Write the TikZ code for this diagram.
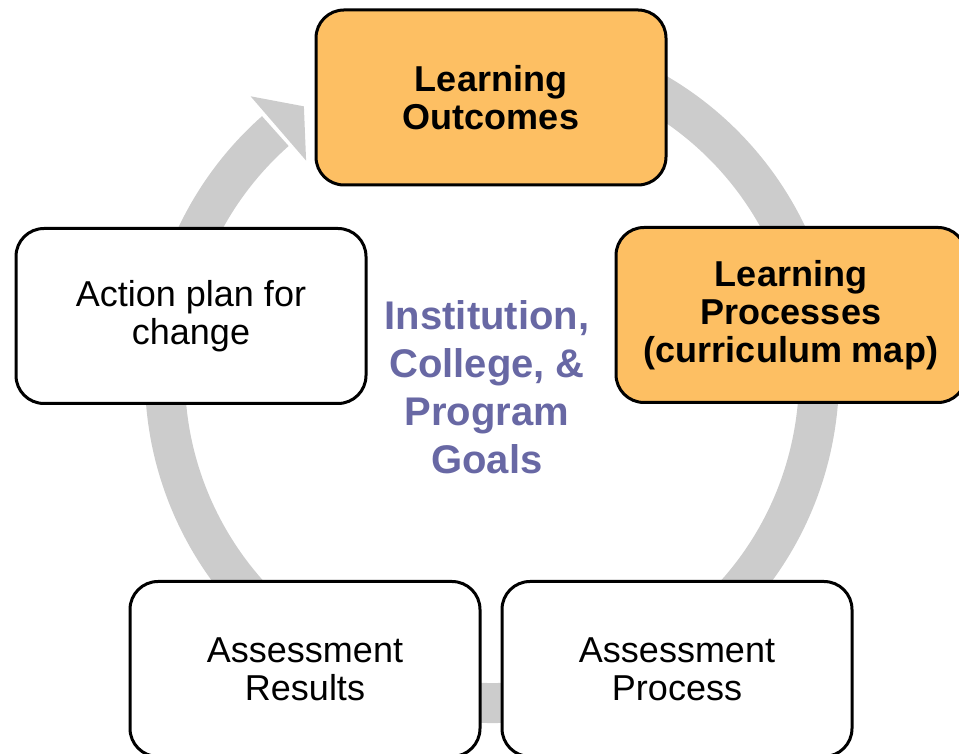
\documentclass[tikz,border=0pt]{standalone}
\usepackage{fontspec}
\setmainfont{Liberation Sans}
\usepackage{tikz}
\definecolor{boxorange}{RGB}{253,191,99}
\definecolor{ringgray}{RGB}{204,204,204}
\definecolor{goalpurple}{RGB}{104,104,164}

\begin{document}
\begin{tikzpicture}[x=0.5pt,y=0.5pt,
  box/.style={draw=black,line width=1.5pt,rounded corners=14pt,fill=white,
    minimum width=175pt,minimum height=87.5pt,inner sep=0pt,align=center,
    font=\fontsize{18}{19}\selectfont},
  hotbox/.style={box,fill=boxorange,font=\fontsize{18}{19}\selectfont\bfseries}]
\useasboundingbox (0,0) rectangle (959,754);
\clip (0,0) rectangle (959,754);

\coordinate (nodeO) at (492,378);
\draw[line width=20pt,color=ringgray] ([shift={(nodeO)}]80:327) arc (80:-228.5:327);
\fill[ringgray] ([shift={(nodeO)}]130.8:369.5) -- ([shift={(nodeO)}]124.9:328.8)
  -- ([shift={(nodeO)}]130.8:284.5) -- cycle;

\node[hotbox] (nodeOut) at (491,656.5) {Learning\\Outcomes};
\node[hotbox] (nodeProc) at (791,439) {Learning\\Processes\\(curriculum map)};
\node[box] (nodeAct) at (191,438) {Action plan for\\change};
\node[box] (nodeRes) at (305,85) {Assessment\\Results};
\node[box] (nodePro) at (677,85) {Assessment\\Process};

\node[font=\fontsize{20}{24}\selectfont\bfseries,text=goalpurple,align=center] (nodeGoal)
  at (487,366.5) {Institution,\\College, \&\\Program\\Goals};
\end{tikzpicture}
\end{document}
